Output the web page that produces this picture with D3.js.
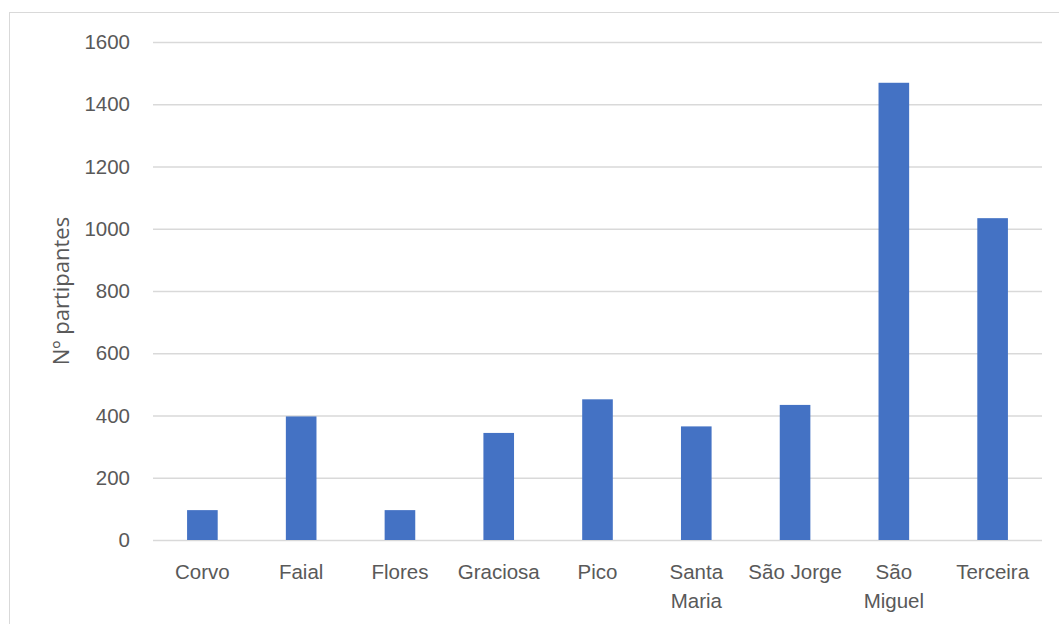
<!DOCTYPE html>
<html>
<head>
<meta charset="utf-8">
<script src="https://cdn.jsdelivr.net/npm/d3@7"></script>
<style>
  body { margin: 0; background: #fff; }
  svg { display: block; font-family: "Open Sans", sans-serif; }
</style>
</head>
<body>
<svg width="1059" height="624"></svg>
<script>
// Chart data
const islands = ["Corvo", "Faial", "Flores", "Graciosa", "Pico", "Santa Maria", "São Jorge", "São Miguel", "Terceira"];
const tickLabels = ["Corvo", "Faial", "Flores", "Graciosa", "Pico", "Santa\nMaria", "São Jorge", "São\nMiguel", "Terceira"];
const participants = [96, 397, 96, 344, 452, 365, 434, 1469, 1034];
const yTicks = [0, 200, 400, 600, 800, 1000, 1200, 1400, 1600];

const svg = d3.select("svg");
const width = 1059;
const height = 624;
const margin = { top: 42, right: 17, bottom: 84, left: 153 };

// Outer chart border
svg.append("rect")
  .attr("x", 9.5)
  .attr("y", 12.5)
  .attr("width", width)
  .attr("height", height)
  .attr("fill", "none")
  .attr("stroke", "#d9d9d9");

// Scales
const xScale = d3.scaleBand()
  .domain(islands)
  .range([margin.left, width - margin.right])
  .paddingInner(0.69)
  .paddingOuter(0.345);

const yScale = d3.scaleLinear()
  .domain([0, 1600])
  .range([height - margin.bottom, margin.top]);

// Gridlines + y labels
const yAxis = d3.axisLeft(yScale)
  .tickValues(yTicks)
  .tickSize(-(width - margin.left - margin.right))
  .tickPadding(23)
  .tickFormat(d => d);

const yG = svg.append("g")
  .attr("transform", `translate(${margin.left},0)`)
  .call(yAxis);
yG.select(".domain").remove();
yG.selectAll(".tick line").attr("stroke", "#d9d9d9").attr("stroke-width", 1.5);
yG.selectAll(".tick text")
  .attr("fill", "#595959")
  .style("font-size", "20.5px");

// Bars
svg.selectAll(".bar")
  .data(participants)
  .enter()
  .append("rect")
  .attr("class", "bar")
  .attr("x", (d, i) => xScale(islands[i]))
  .attr("y", d => yScale(d))
  .attr("width", xScale.bandwidth())
  .attr("height", d => yScale(0) - yScale(d))
  .attr("fill", "#4472c4");

// X axis labels
const xAxis = d3.axisBottom(xScale).tickSize(0).tickFormat("");
const xG = svg.append("g")
  .attr("transform", `translate(0,${height - margin.bottom})`)
  .call(xAxis);
xG.select(".domain").remove();
xG.selectAll(".tick").each(function(d, i) {
  const lines = tickLabels[i].split("\n");
  const t = d3.select(this).append("text")
    .attr("text-anchor", "middle")
    .attr("fill", "#595959")
    .style("font-size", "20.5px");
  lines.forEach((ln, j) => {
    t.append("tspan")
      .attr("x", 0)
      .attr("y", 39 + j * 29)
      .text(ln);
  });
});

// Y axis title
svg.append("text")
  .text("Nº partipantes")
  .attr("transform", `translate(69,${(margin.top + height - margin.bottom) / 2}) rotate(-90)`)
  .attr("text-anchor", "middle")
  .attr("fill", "#595959")
  .style("font-size", "22px");
</script>
</body>
</html>
